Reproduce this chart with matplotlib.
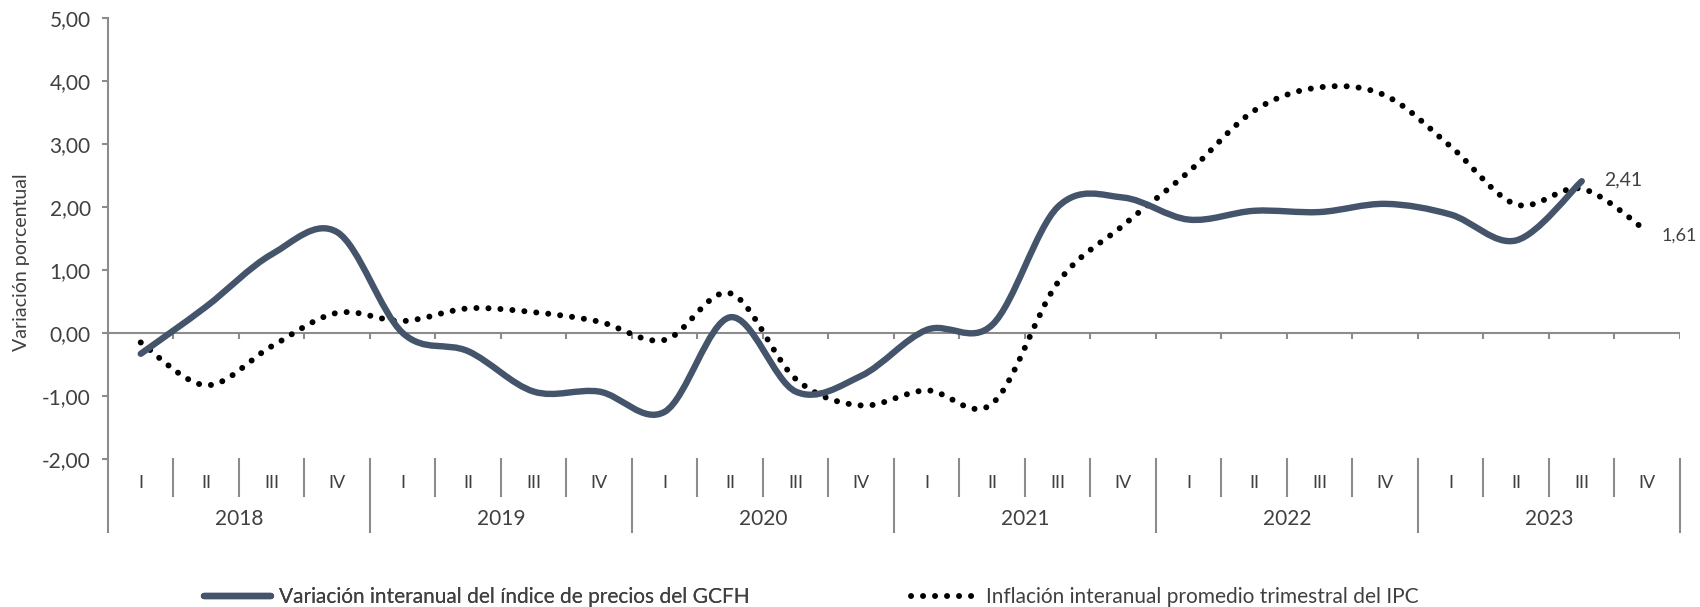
import numpy as np
import matplotlib
matplotlib.use('Agg')
import matplotlib.pyplot as plt
from matplotlib.path import Path
from matplotlib.patches import PathPatch
from matplotlib.lines import Line2D
from matplotlib.ticker import FuncFormatter

YEARS = ['2018', '2019', '2020', '2021', '2022', '2023']
QUARTERS = ['I', 'II', 'III', 'IV']
GCFH = [-0.33, 0.42, 1.25, 1.60,
        0.00, -0.29, -0.93, -0.93,
        -1.25, 0.25, -0.93, -0.68,
        0.05, 0.13, 2.00, 2.15,
        1.80, 1.94, 1.92, 2.05,
        1.88, 1.47, 2.41]
IPC = [-0.15, -0.83, -0.21, 0.32,
       0.19, 0.39, 0.33, 0.18,
       -0.11, 0.63, -0.73, -1.15,
       -0.91, -1.12, 0.80, 1.71,
       2.56, 3.53, 3.90, 3.77,
       2.96, 2.04, 2.29, 1.61]
LABEL_GCFH = 'Variación interanual del índice de precios del GCFH'
LABEL_IPC = 'Inflación interanual promedio trimestral del IPC'

LINE_COLOR = '#44546A'
AXIS_COLOR = '#8C8C8C'
TEXT_COLOR = '#404040'

plt.rcParams['font.family'] = ['Lato', 'DejaVu Sans']
plt.rcParams['text.color'] = TEXT_COLOR


def smooth_path(xs, ys):
    # excel-like smoothed line: bezier segments through every point
    pts = np.column_stack([xs, ys])
    n = len(pts)
    verts = [pts[0]]
    codes = [Path.MOVETO]
    for i in range(n - 1):
        p0 = pts[i - 1] if i > 0 else pts[i]
        p1 = pts[i]
        p2 = pts[i + 1]
        p3 = pts[i + 2] if i + 2 < n else pts[i + 1]
        c1 = p1 + (p2 - p0) / 6.0
        c2 = p2 - (p3 - p1) / 6.0
        verts += [c1, c2, p2]
        codes += [Path.CURVE4] * 3
    return Path(verts, codes)


fig = plt.figure(figsize=(17, 6.07), dpi=100)
W, H = 1700, 607
left, right, top, bottom = 108, 1680, 18, 459
ax = fig.add_axes([left / W, 1 - bottom / H, (right - left) / W, (bottom - top) / H])

n_cat = len(YEARS) * len(QUARTERS)
ax.set_xlim(0, n_cat)
ax.set_ylim(-2, 5)
for s in ['top', 'right', 'bottom']:
    ax.spines[s].set_visible(False)
ax.spines['left'].set_color(AXIS_COLOR)
ax.spines['left'].set_linewidth(1.5)
ax.set_xticks([])
ax.set_yticks(np.arange(-2, 6, 1))
ax.yaxis.set_major_formatter(FuncFormatter(lambda v, p: f'{v:.2f}'.replace('.', ',')))
ax.tick_params(axis='y', length=4.5, width=1.5, color=AXIS_COLOR, pad=8,
               labelsize=15, labelcolor=TEXT_COLOR)

# zero line with small ticks at category boundaries
ax.axhline(0, color=AXIS_COLOR, lw=1.5, zorder=1)
ax.vlines(np.arange(1, n_cat + 1), -0.1, 0, color=AXIS_COLOR, lw=1.5, zorder=1)

# category axis under the plot
ah = bottom - top
trans = ax.get_xaxis_transform()
q_low = -37 / ah
y_low = -73 / ah
ax.plot([0, 0], [0, y_low], transform=trans, color=AXIS_COLOR, lw=1.5, clip_on=False)
for k in range(1, n_cat + 1):
    end = y_low if k % 4 == 0 else q_low
    ax.plot([k, k], [0, end], transform=trans, color=AXIS_COLOR, lw=1.5, clip_on=False)
for i, yr in enumerate(YEARS):
    for j, q in enumerate(QUARTERS):
        ax.text(i * 4 + j + 0.5, -24 / ah, q, transform=trans, ha='center', va='center',
                fontsize=13, color=TEXT_COLOR)
    ax.text(i * 4 + 2, -60 / ah, yr, transform=trans, ha='center', va='center',
            fontsize=15, color=TEXT_COLOR)

x_gcfh = np.arange(len(GCFH)) + 0.5
x_ipc = np.arange(len(IPC)) + 0.5

ax.add_patch(PathPatch(smooth_path(x_ipc, IPC), fill=False, edgecolor='black', lw=4.3,
                       linestyle=(0, (0.01, 2.0)), capstyle='round', zorder=3))
ax.add_patch(PathPatch(smooth_path(x_gcfh, GCFH), fill=False, edgecolor=LINE_COLOR, lw=4.6,
                       capstyle='round', joinstyle='round', zorder=4))

ax.annotate(f'{GCFH[-1]:.2f}'.replace('.', ','), (x_gcfh[-1], GCFH[-1]), xytext=(16, 1),
            textcoords='offset points', va='center', ha='left', fontsize=14, color=TEXT_COLOR)
ax.annotate(f'{IPC[-1]:.2f}'.replace('.', ','), (x_ipc[-1], IPC[-1]), xytext=(10, -3),
            textcoords='offset points', va='center', ha='left', fontsize=13, color=TEXT_COLOR)

fig.text(22 / W, 1 - 262 / H, 'Variación porcentual', rotation=90, ha='center', va='center',
         fontsize=14, color=TEXT_COLOR)

h_gcfh = Line2D([], [], color=LINE_COLOR, lw=4.6, solid_capstyle='round')
h_ipc = Line2D([], [], color='black', lw=4.3, linestyle=(0, (0.01, 2.0)), dash_capstyle='round')
leg1 = fig.legend([h_gcfh], [LABEL_GCFH], loc='center left', bbox_to_anchor=(204 / W, 1 - 597 / H),
                  frameon=False, fontsize=15, handlelength=3.2, handletextpad=0.4, borderpad=0,
                  borderaxespad=0, labelcolor=TEXT_COLOR)
fig.add_artist(leg1)
fig.legend([h_ipc], [LABEL_IPC], loc='center left', bbox_to_anchor=(911 / W, 1 - 597 / H),
           frameon=False, fontsize=15, handlelength=3.2, handletextpad=0.4, borderpad=0,
           borderaxespad=0, labelcolor=TEXT_COLOR)

fig.savefig('out.png', dpi=100)
